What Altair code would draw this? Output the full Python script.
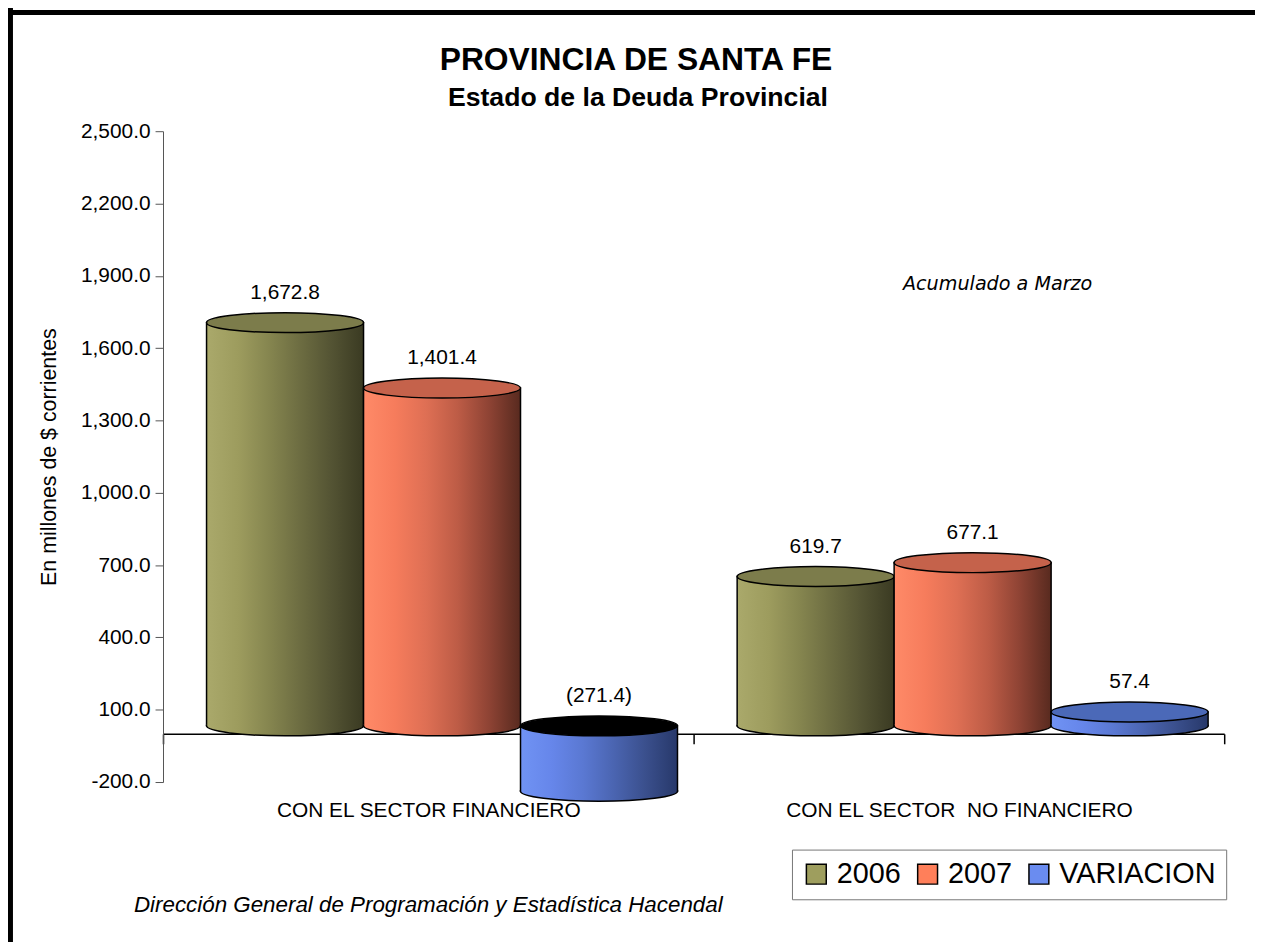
import altair as alt
import pandas as pd

# ---------------- data ----------------
categories = ["CON EL SECTOR FINANCIERO", "CON EL SECTOR\u00a0 NO FINANCIERO"]
series = ["2006", "2007", "VARIACION"]
values_2006 = [1672.8, 619.7]
values_2007 = [1401.4, 677.1]
values_variacion = [-271.4, 57.4]
y_ticks = [-200, 100, 400, 700, 1000, 1300, 1600, 1900, 2200, 2500]

title_text = "PROVINCIA DE SANTA FE"
subtitle_text = "Estado de la Deuda Provincial"
y_title = "En millones de $ corrientes"
note_text = "Acumulado a Marzo"
source_text = "Dirección General de Programación y Estadística Hacendal"

rows = []
for s, vals in zip(series, [values_2006, values_2007, values_variacion]):
    for c, v in zip(categories, vals):
        rows.append({"cat": c, "serie": s, "value": v})
df = pd.DataFrame(rows)

# ---------------- styling ----------------
W, H = 1068, 655
FONT = "Arial, Liberation Sans, sans-serif"
BW = 158      # cylinder width in px (matches xOffset band)
DEPTH = -8    # 3D depth shift of the cylinders (px)

legend_colors = ["#9e9e5e", "#ff7f5a", "#6a8cf0"]
top_colors = {"2006": "#7c7c4b", "2007": "#c5624b", "VARIACION": "#4b69b8"}
grad_stops = {
    "2006": ["#aaa96b", "#9d9c5e", "#85854f", "#6c6c41", "#535333", "#3a3a22"],
    "2007": ["#ff8a68", "#f67c5c", "#de6f54", "#bd5c46", "#8e4334", "#582a1f"],
    "VARIACION": ["#7093f4", "#6686ea", "#5a78d2", "#4a64b0", "#3a4f8c", "#27386a"],
}


def gradient(colors):
    n = len(colors) - 1
    return alt.LinearGradient(
        gradient="linear",
        stops=[alt.GradientStop(color=c, offset=i / n) for i, c in enumerate(colors)],
        x1=0, x2=1, y1=0, y2=0,
    )


ELL = ("M -1 0 C -1 -0.0701 -0.5523 -0.127 0 -0.127 C 0.5523 -0.127 1 -0.0701 1 0 "
       "C 1 0.0701 0.5523 0.127 0 0.127 C -0.5523 0.127 -1 0.0701 -1 0 Z")
HALF = ("M -1 -0.015 L -1 0 C -1 0.0701 -0.5523 0.127 0 0.127 "
        "C 0.5523 0.127 1 0.0701 1 0 L 1 -0.015")

x_enc = alt.X(
    "cat:N", sort=categories,
    scale=alt.Scale(paddingInner=0, paddingOuter=0),
    axis=alt.Axis(
        orient="bottom", offset=-48.5, title=None, labelAngle=0, labelLimit=0,
        domainColor="black", domainWidth=1.5,
        tickColor="black", tickWidth=1.5, tickSize=10, tickBand="extent",
        labelPadding=56, labelFontSize=21, labelFont=FONT, labelColor="black",
    ),
)
xo_enc = alt.XOffset(
    "serie:N", sort=series,
    scale=alt.Scale(domain=series, paddingInner=0, paddingOuter=0.19, align=0.73),
)
y_scale = alt.Scale(domain=[-200, 2500], nice=False, zero=False)
y_axis = alt.Axis(
    values=y_ticks, format=",.1f", grid=False,
    labelExpr="replace(datum.label, '\u2212', '-')",
    labelFontSize=21, labelFont=FONT, labelColor="black", labelPadding=5,
    tickSize=8, tickColor="#555555", domainColor="#555555",
    title=y_title, titleFontSize=21.5, titleFontWeight="normal", titleFont=FONT,
    titleColor="black", titlePadding=20,
)


def yq(field):
    return alt.Y(f"{field}:Q", scale=y_scale, axis=y_axis)


base = alt.Chart(df).transform_calculate(
    top="max(datum.value, 0)",
    bottom="min(datum.value, 0)",
    label="datum.value < 0 ? '(' + format(-datum.value, ',.1f') + ')' : format(datum.value, ',.1f')",
)

layers = []
for s in series:
    g = gradient(grad_stops[s])
    b = base.transform_filter(alt.datum.serie == s)
    body = b.mark_bar(
        fill=g, stroke="black", strokeWidth=1.5, yOffset=DEPTH, y2Offset=DEPTH
    ).encode(x=x_enc, xOffset=xo_enc, y=yq("value"), y2=alt.datum(0))
    bottom = b.mark_point(
        shape=HALF, size=BW * BW, filled=True, fill=g, stroke="black",
        strokeWidth=1.5, opacity=1, yOffset=DEPTH,
    ).encode(x=x_enc, xOffset=xo_enc, y=yq("bottom"))
    top = b.mark_point(
        shape=ELL, size=BW * BW, filled=True, stroke="black",
        strokeWidth=1.5, opacity=1, yOffset=DEPTH,
    ).encode(
        x=x_enc, xOffset=xo_enc, y=yq("top"),
        fill=alt.condition("datum.value < 0", alt.value("black"), alt.value(top_colors[s])),
    )
    layers += [body, bottom, top]

labels = base.mark_text(fontSize=21, font=FONT, color="black", dy=-38, baseline="middle").encode(
    x=x_enc, xOffset=xo_enc, y=yq("top"), text="label:N"
)

legend_layer = base.mark_point(shape="square", filled=True, opacity=0).encode(
    x=x_enc, xOffset=xo_enc, y=yq("top"),
    color=alt.Color(
        "serie:N", sort=series,
        scale=alt.Scale(domain=series, range=legend_colors),
        legend=alt.Legend(
            orient="none", legendX=633, legendY=723, direction="horizontal",
            title=None, symbolType="square", symbolSize=400,
            symbolStrokeColor="black", symbolStrokeWidth=1.5, symbolOpacity=1,
            labelFontSize=29, labelFont=FONT, labelColor="black", labelOffset=6,
            columnPadding=12, padding=10, strokeColor="#777777", fillColor="white",
        ),
    ),
)

one = pd.DataFrame({"k": [0]})


def text_mark(txt, x, y, size, weight="normal", style="normal", font=FONT):
    return alt.Chart(one).mark_text(
        text=txt, fontSize=size, fontWeight=weight, fontStyle=style, font=font,
        color="black", align="center", baseline="middle",
    ).encode(x=alt.value(x), y=alt.value(y))


texts = [
    text_mark(title_text, 476, -72, 32, weight="bold"),
    text_mark(subtitle_text, 478, -33, 26.8, weight="bold"),
    text_mark(note_text, 840, 154, 19.3, style="italic",
              font="Comic Sans MS, DejaVu Sans, sans-serif"),
    text_mark(source_text, 267, 779, 22.5, style="italic"),
]

border = [
    alt.Chart(one).mark_rule(color="black", strokeWidth=5).encode(
        x=alt.value(-153.5), y=alt.value(-124), y2=alt.value(830)
    ),
    alt.Chart(one).mark_rule(color="black", strokeWidth=5).encode(
        x=alt.value(-156), x2=alt.value(1120), y=alt.value(-119.5)
    ),
]

chart = alt.layer(*layers, labels, legend_layer, *texts, *border).properties(
    width=W, height=H,
    autosize=alt.AutoSizeParams(type="none"),
    padding={"left": 156, "top": 121, "right": 31, "bottom": 158},
    background="white",
).configure_view(stroke=None)

chart.save("out.html", embed_options={"renderer": "svg", "actions": False})
